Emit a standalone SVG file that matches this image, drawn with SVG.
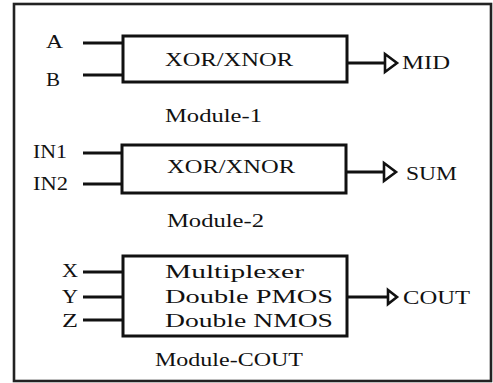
<svg xmlns="http://www.w3.org/2000/svg" width="493" height="383" viewBox="0 0 493 383">
<style>
text{font-family:"Liberation Serif","Times New Roman",serif;font-size:18px;fill:#111}
.box{fill:#fff;stroke:#111;stroke-width:3}
.wire{stroke:#111;stroke-width:3;fill:none}
.arr{fill:#fff;stroke:#111;stroke-width:2.6;stroke-linejoin:miter}
.frame{fill:#fff;stroke:#222;stroke-width:2.6}
</style>
<rect class="frame" x="14" y="4" width="477" height="377"/>
<g id="connectors">
<line class="wire" x1="83" y1="43" x2="123" y2="43"/>
<line class="wire" x1="83" y1="75" x2="123" y2="75"/>
<line class="wire" x1="347" y1="63" x2="385" y2="63"/>
<line class="wire" x1="83" y1="153" x2="122" y2="153"/>
<line class="wire" x1="83" y1="184" x2="122" y2="184"/>
<line class="wire" x1="346" y1="172" x2="384" y2="172"/>
<line class="wire" x1="83" y1="272" x2="123" y2="272"/>
<line class="wire" x1="83" y1="297" x2="123" y2="297"/>
<line class="wire" x1="83" y1="320" x2="123" y2="320"/>
<line class="wire" x1="347" y1="297" x2="388" y2="297"/>
<polygon class="arr" points="385,54 397,63 385,72"/>
<polygon class="arr" points="384,163 396,172 384,181"/>
<polygon class="arr" points="388,290 397,297 388,304"/>
</g>
<g id="module1">
<rect class="box" x="123" y="36" width="224" height="46"/>
<text x="165" y="66" textLength="128" lengthAdjust="spacingAndGlyphs">XOR/XNOR</text>
<text x="165" y="122" textLength="97" lengthAdjust="spacingAndGlyphs">Module-1</text>
</g>
<g id="inA"><text x="46" y="48" textLength="17" lengthAdjust="spacingAndGlyphs">A</text></g>
<g id="inB"><text x="46" y="86" textLength="14" lengthAdjust="spacingAndGlyphs">B</text></g>
<g id="outMID"><text x="402" y="69" textLength="48" lengthAdjust="spacingAndGlyphs">MID</text></g>
<g id="module2">
<rect class="box" x="122" y="145" width="224" height="48"/>
<text x="167" y="173" textLength="128" lengthAdjust="spacingAndGlyphs">XOR/XNOR</text>
<text x="167" y="227" textLength="97" lengthAdjust="spacingAndGlyphs">Module-2</text>
</g>
<g id="inIN1"><text x="33" y="158" textLength="34" lengthAdjust="spacingAndGlyphs">IN1</text></g>
<g id="inIN2"><text x="33" y="190" textLength="35" lengthAdjust="spacingAndGlyphs">IN2</text></g>
<g id="outSUM"><text x="406" y="180" textLength="51" lengthAdjust="spacingAndGlyphs">SUM</text></g>
<g id="moduleCOUT">
<rect class="box" x="123" y="256" width="224" height="80"/>
<text x="165" y="278" textLength="139" lengthAdjust="spacingAndGlyphs">Multiplexer</text>
<text x="165" y="303" textLength="168" lengthAdjust="spacingAndGlyphs">Double PMOS</text>
<text x="165" y="327" textLength="168" lengthAdjust="spacingAndGlyphs">Double NMOS</text>
<text x="155" y="366" textLength="148" lengthAdjust="spacingAndGlyphs">Module-COUT</text>
</g>
<g id="inX"><text x="62" y="277" textLength="16" lengthAdjust="spacingAndGlyphs">X</text></g>
<g id="inY"><text x="62" y="303" textLength="16" lengthAdjust="spacingAndGlyphs">Y</text></g>
<g id="inZ"><text x="62" y="327" textLength="16" lengthAdjust="spacingAndGlyphs">Z</text></g>
<g id="outCOUT"><text x="403" y="304" textLength="67" lengthAdjust="spacingAndGlyphs">COUT</text></g>
</svg>
